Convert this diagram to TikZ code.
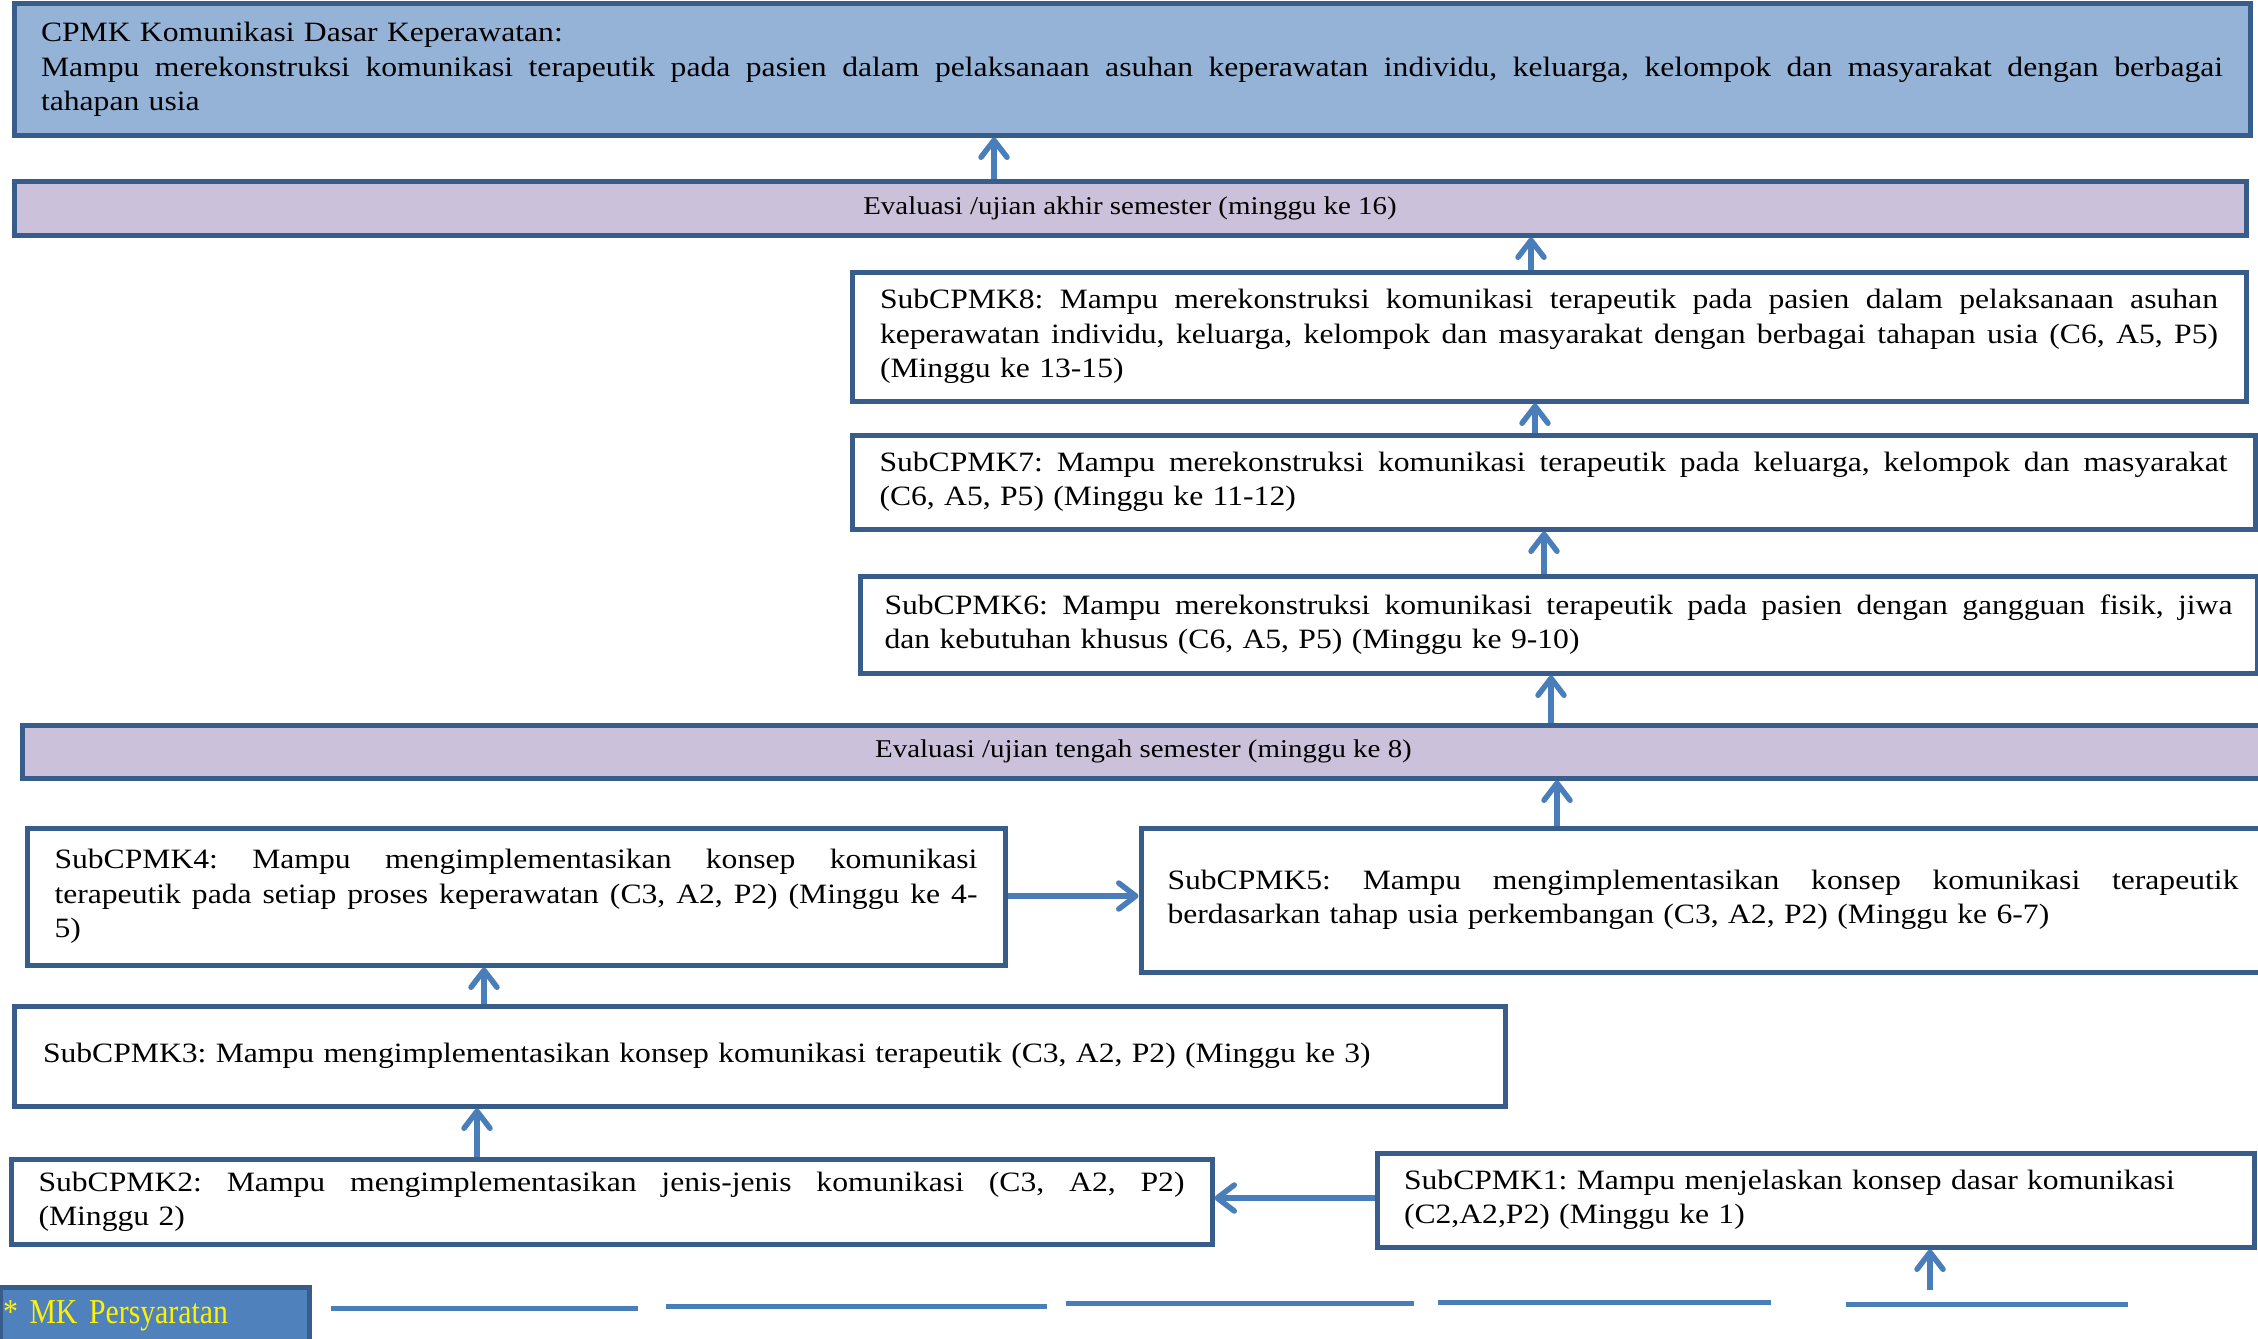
\documentclass[tikz,border=0pt]{standalone}
\usepackage{fontspec}
\setmainfont[FakeStretch=1.13]{Liberation Serif}
\newfontfamily\mkfont[FakeStretch=0.85]{Liberation Serif}
\usetikzlibrary{arrows.meta,calc}
\definecolor{bordblue}{HTML}{385D8A}
\definecolor{arrblue}{HTML}{4A7EBB}
\definecolor{cpmkfill}{HTML}{95B3D7}
\definecolor{evalfill}{HTML}{CCC1DA}
\definecolor{mkfill}{HTML}{4F81BD}
\newcommand\jline[2]{\leavevmode\hbox to #1{\spaceskip=0.3em plus 2em minus 0.1em\relax #2}}
\frenchspacing
\tikzset{
  box/.style={draw=bordblue, line width=5pt, fill=white, rectangle, inner sep=0pt, align=left,
    font=\fontsize{28}{34.5}\selectfont},
  evalbox/.style={draw=bordblue, line width=5pt, fill=evalfill, rectangle, inner sep=0pt,
    font=\fontsize{25.6}{28}\selectfont},
  arr/.style={draw=arrblue, line width=5.5pt, -{Straight Barb[length=17pt,width=26pt,round]}},
  bline/.style={draw=arrblue, line width=5pt}
}
\begin{document}
\begin{tikzpicture}[x=1pt,y=-1pt]
\useasboundingbox (0,0) rectangle (2258,1338);
\clip (0,0) rectangle (2258,1338);

% boxes
\node[box, fill=cpmkfill, minimum width=2236pt, minimum height=131pt, text width=2182pt] (cpmk) at (1132,69.5)
 {CPMK Komunikasi Dasar Keperawatan:\\
  \jline{2182pt}{Mampu merekonstruksi komunikasi terapeutik pada pasien dalam pelaksanaan asuhan keperawatan individu, keluarga, kelompok dan masyarakat dengan berbagai}\\
  tahapan usia};

\node[evalbox, minimum width=2232pt, minimum height=54pt] (evalA) at (1130,208)
 {Evaluasi /ujian akhir semester (minggu ke 16)};

\node[box, minimum width=1394pt, minimum height=129pt, text width=1338pt] (sub8) at (1549,336.5)
 {\jline{1338pt}{SubCPMK8: Mampu merekonstruksi komunikasi terapeutik pada pasien dalam pelaksanaan asuhan}\\
  \jline{1338pt}{keperawatan individu, keluarga, kelompok dan masyarakat dengan berbagai tahapan usia (C6, A5, P5)}\\
  (Minggu ke 13-15)};

\node[box, minimum width=1403pt, minimum height=94pt, text width=1348pt] (sub7) at (1553.5,482)
 {\jline{1348pt}{SubCPMK7: Mampu merekonstruksi komunikasi terapeutik pada keluarga, kelompok dan masyarakat}\\
  (C6, A5, P5) (Minggu ke 11-12)};

\node[box, minimum width=1397pt, minimum height=97pt, text width=1348pt] (sub6) at (1558.5,624.5)
 {\jline{1348pt}{SubCPMK6: Mampu merekonstruksi komunikasi terapeutik pada pasien dengan gangguan fisik, jiwa}\\
  dan kebutuhan khusus (C6, A5, P5) (Minggu ke 9-10)};

\node[evalbox, minimum width=2243pt, minimum height=53pt] (evalT) at (1143.5,751.5)
 {Evaluasi /ujian tengah semester (minggu ke 8)};

\node[box, minimum width=978pt, minimum height=137pt, text width=923pt] (sub4) at (516,896.5)
 {\jline{923pt}{SubCPMK4: Mampu mengimplementasikan konsep komunikasi}\\
  \jline{923pt}{terapeutik pada setiap proses keperawatan (C3, A2, P2) (Minggu ke 4-}\\
  5)};

\node[box, minimum width=1124pt, minimum height=144pt, text width=1071pt] (sub5) at (1703,900)
 {\jline{1071pt}{SubCPMK5: Mampu mengimplementasikan konsep komunikasi terapeutik}\\
  berdasarkan tahap usia perkembangan (C3, A2, P2) (Minggu ke 6-7)};

\node[box, minimum width=1491pt, minimum height=100pt, text width=1433pt] (sub3) at (759.5,1056)
 {SubCPMK3: Mampu mengimplementasikan konsep komunikasi terapeutik (C3, A2, P2) (Minggu ke 3)};

\node[box, minimum width=1201pt, minimum height=85pt, text width=1146pt] (sub2) at (611.5,1202)
 {\jline{1146pt}{SubCPMK2: Mampu mengimplementasikan jenis-jenis komunikasi (C3, A2, P2)}\\
  (Minggu 2)};

\node[box, minimum width=877pt, minimum height=94pt, text width=823pt] (sub1) at (1815.5,1200)
 {SubCPMK1: Mampu menjelaskan konsep dasar komunikasi\\
  (C2,A2,P2) (Minggu ke 1)};

\node[draw=bordblue, line width=5pt, fill=mkfill, minimum width=309pt, minimum height=58pt,
  text width=303pt, inner sep=0pt, align=left, text=yellow, font=\mkfont\fontsize{35}{40}\selectfont] (mk) at (154.5,1316)
 {* MK Persyaratan};

% connector x/y references
\coordinate (x1) at (994,0);
\coordinate (x2) at (1531,0);
\coordinate (x3) at (1535,0);
\coordinate (x4) at (1544,0);
\coordinate (x5) at (1551,0);
\coordinate (x6) at (1557,0);
\coordinate (x8) at (484,0);
\coordinate (x9) at (477,0);
\coordinate (y7) at (0,896);
\coordinate (y10) at (0,1198);
\coordinate (s11) at (1930,1290);

\draw[arr] (x1 |- evalA.north) -- (x1 |- cpmk.south);
\draw[arr] (x2 |- sub8.north) -- (x2 |- evalA.south);
\draw[arr] (x3 |- sub7.north) -- (x3 |- sub8.south);
\draw[arr] (x4 |- sub6.north) -- (x4 |- sub7.south);
\draw[arr] (x5 |- evalT.north) -- (x5 |- sub6.south);
\draw[arr] (x6 |- sub5.north) -- (x6 |- evalT.south);
\draw[arr] (sub4.east |- y7) -- (sub5.west |- y7);
\draw[arr] (x8 |- sub3.north) -- (x8 |- sub4.south);
\draw[arr] (x9 |- sub2.north) -- (x9 |- sub3.south);
\draw[arr] (sub1.west |- y10) -- (sub2.east |- y10);
\draw[arr] (s11) -- (s11 |- sub1.south);

% bottom lines
\draw[bline] (331,1308) -- (638,1308);
\draw[bline] (666,1306) -- (1047,1306);
\draw[bline] (1066,1303) -- (1414,1303);
\draw[bline] (1438,1302) -- (1771,1302);
\draw[bline] (1846,1304) -- (2128,1304);
\end{tikzpicture}
\end{document}
